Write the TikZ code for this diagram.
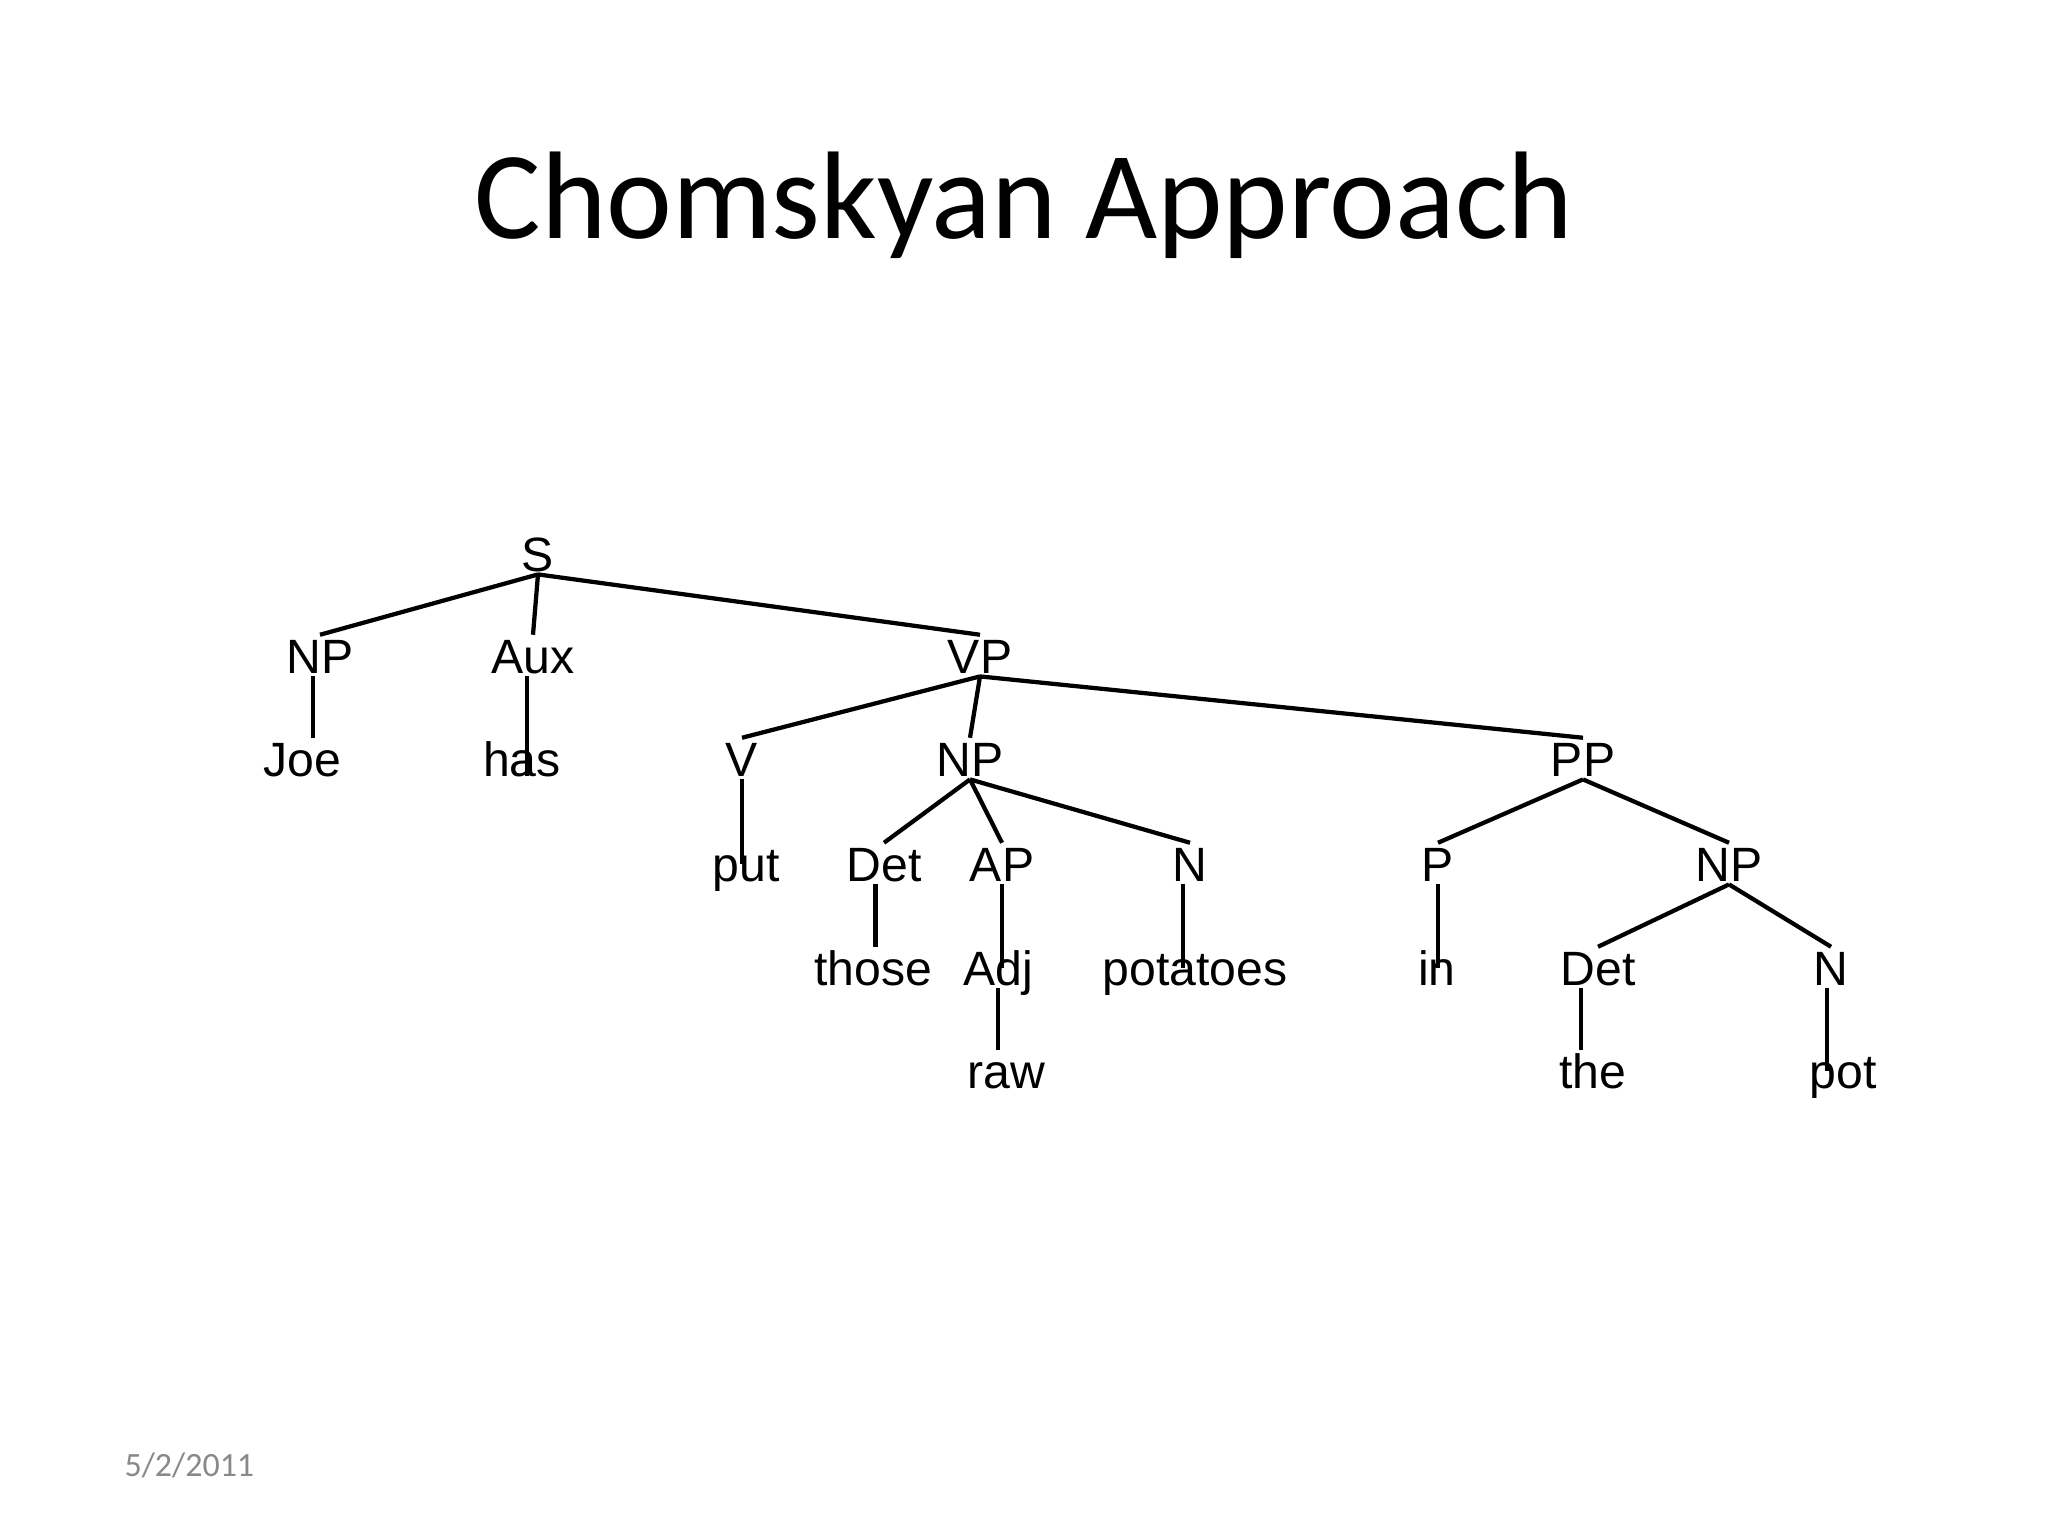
\documentclass[tikz,border=0pt]{standalone}
\usepackage{fontspec}
\setmainfont{Liberation Sans}
\newfontfamily\slidefont{Carlito}
\definecolor{footgray}{RGB}{137,137,137}

\tikzset{
  cat/.style={anchor=base, inner sep=1pt, text height=12.3pt, text depth=0pt,
    font=\fontsize{17}{20}\selectfont},
  branch/.style={line width=1.5pt},
}

\begin{document}
\begin{tikzpicture}[x=0.0124023cm, y=-0.0124023cm]
  \fill[white] (0,0) rectangle (2048,1536);
  \useasboundingbox (0,0) rectangle (2048,1536);

  \node[anchor=base, inner sep=0pt, font=\slidefont\fontsize{44}{52}\selectfont] (title) at (1024,238) {Chomskyan Approach};

  % the tree
  \node[cat] (s) at (538,571) {S};
  \node[cat] (np) at (320,673) {NP};
  \node[cat] (aux) at (533,673) {Aux};
  \node[cat] (vp) at (980,673) {VP};
  \node[cat] (joe) at (302,776) {Joe};
  \node[cat] (has) at (522,776) {has};
  \node[cat] (v) at (742,776) {V};
  \node[cat] (obj) at (970,776) {NP};
  \node[cat] (pp) at (1583,776) {PP};
  \node[cat] (put) at (746,881) {put};
  \node[cat] (det) at (884,881) {Det};
  \node[cat] (ap) at (1002,881) {AP};
  \node[cat] (noun) at (1190,881) {N};
  \node[cat] (prep) at (1438,881) {P};
  \node[cat] (pobj) at (1729,881) {NP};
  \node[cat] (those) at (873,985) {those};
  \node[cat] (adj) at (998,985) {Adj};
  \node[cat] (potatoes) at (1195,985) {potatoes};
  \node[cat] (inword) at (1437,985) {in};
  \node[cat] (det2) at (1598,985) {Det};
  \node[cat] (noun2) at (1831,985) {N};
  \node[cat] (raw) at (1006,1088) {raw};
  \node[cat] (the) at (1593,1088) {the};
  \node[cat] (pot) at (1843,1088) {pot};

  % branching
  \draw[branch] (s.south) -- (np.north) (s.south) -- (aux.north) (s.south) -- (vp.north);
  \draw[branch] (vp.south) -- (v.north) (vp.south) -- (obj.north) (vp.south) -- (pp.north);
  \draw[branch] (obj.south) -- (det.north) (obj.south) -- (ap.north) (obj.south) -- (noun.north);
  \draw[branch] (pp.south) -- (prep.north) (pp.south) -- (pobj.north);
  \draw[branch] (pobj.south) -- (det2.north) (pobj.south) -- (noun2.north);

  % unary stems
  \draw[branch] ([xshift=-2.5pt]np.south) -- ([xshift=-2.5pt]np.south |- joe.north);
  \draw[branch] ([xshift=-2pt]aux.south) -- ([xshift=-2pt]aux.south |- has.base);
  \draw[branch] (v.south) -- (v.south |- put.center);
  \draw[branch] ([xshift=-3pt]det.south) -- ([xshift=-3pt]det.south |- those.north);
  \draw[branch] (ap.south) -- (ap.south |- adj.center);
  \draw[branch] (adj.south) -- (adj.south |- raw.north);
  \draw[branch] ([xshift=-2.5pt]noun.south) -- ([xshift=-2.5pt]noun.south |- potatoes.center);
  \draw[branch] (prep.south) -- (prep.south |- inword.center);
  \draw[branch] ([xshift=-6pt]det2.south) -- ([xshift=-6pt]det2.south |- the.north);
  \draw[branch] ([xshift=-1.5pt]noun2.south) -- ([xshift=-1.5pt]noun2.south |- pot.center);

  \node[anchor=base west, inner sep=0pt, text=footgray, font=\slidefont\fontsize{12}{14}\selectfont] (date) at (124,1476) {5/2/2011};
\end{tikzpicture}
\end{document}
